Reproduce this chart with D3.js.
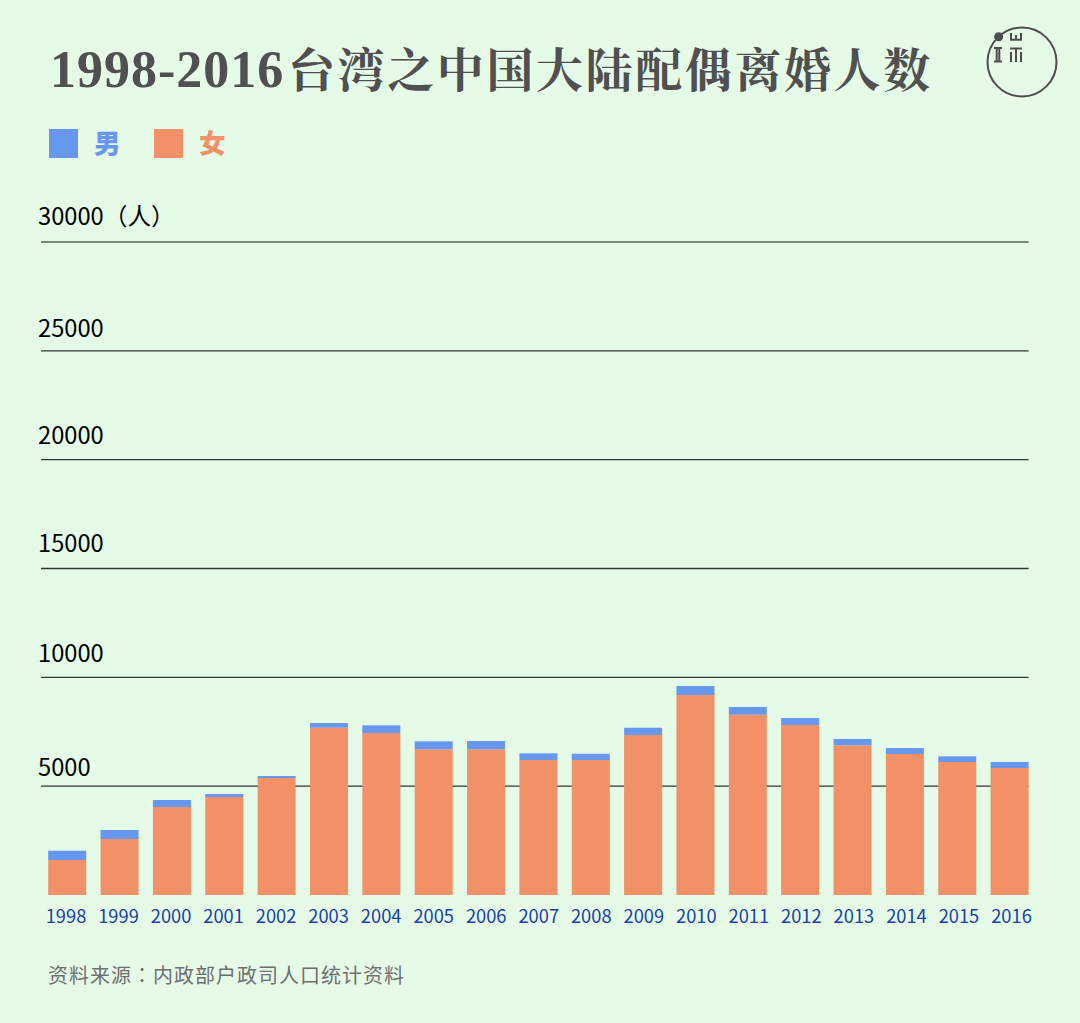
<!DOCTYPE html>
<html lang="zh-CN">
<head>
<meta charset="utf-8">
<script src="https://cdn.jsdelivr.net/npm/d3@7"></script>
<style>
html,body{margin:0;padding:0;background:#e5fbe8;}
svg{display:block;}
text{font-family:"Noto Sans CJK SC","Noto Sans",sans-serif;}
</style>
</head>
<body>
<div id="chart"></div>
<script>
const years = ["1998","1999","2000","2001","2002","2003","2004","2005","2006","2007","2008","2009","2010","2011","2012","2013","2014","2015","2016"];
const female = [1608,2572,4042,4502,5374,7685,7441,6693,6693,6201,6201,7350,9187,8282,7809,6876,6477,6109,5834];
const male   = [ 427, 414, 322, 138,  92, 215, 354, 367, 381, 308, 289, 335, 413, 354, 321, 290, 275, 262, 275];
const yTicks = [5000,10000,15000,20000,25000,30000];
const legendLabels = ["男","女"];
const titleDigits = "1998-2016";
const titleWords = "台湾之中国大陆配偶离婚人数";
const sourceText = "资料来源：内政部户政司人口统计资料";
const yUnit = "（人）";

const W = 1080, H = 1023;
const colors = {bg:"#e5fbe8", male:"#6897f0", female:"#f29068", title:"#505050", axis:"#1a3fa8", source:"#6f6f6f"};

const svg = d3.select("#chart").append("svg").attr("width",W).attr("height",H).attr("viewBox",`0 0 ${W} ${H}`);
svg.append("rect").attr("width",W).attr("height",H).attr("fill",colors.bg);

const x = d3.scaleBand().domain(years).range([48.2,1028.6]).paddingInner(0.274).paddingOuter(0);
const xLabel = d3.scalePoint().domain(years).range([66,1011.5]);
const y = d3.scaleLinear().domain([0,30000]).range([895,242]);

// gridlines
svg.append("g").selectAll("line").data(yTicks).join("line")
  .attr("x1",41).attr("x2",1028.6)
  .attr("y1",d=>y(d)).attr("y2",d=>y(d))
  .attr("stroke",d=>d===30000?"#566357":"#333633")
  .attr("stroke-width",d=>d===30000?1.6:1.3);

// y labels
const yLabelGap = new Map([[5000,10],[10000,15],[15000,17],[20000,16],[25000,14],[30000,17]]);
svg.append("g").selectAll("text").data(yTicks).join("text")
  .attr("x",38).attr("y",d=>y(d)-yLabelGap.get(d))
  .attr("font-size",23.7).attr("fill","#000")
  .text(d=>d===30000?d+yUnit:d);

// stacked bars
const rows = years.map((yr,i)=>({year:yr,female:female[i],male:male[i]}));
const stack = d3.stack().keys(["female","male"])(rows);
svg.append("g").selectAll("g").data(stack).join("g")
  .attr("fill",s=>colors[s.key])
  .selectAll("rect").data(s=>s).join("rect")
  .attr("x",d=>x(d.data.year))
  .attr("width",x.bandwidth())
  .attr("y",d=>y(d[1]))
  .attr("height",d=>y(d[0])-y(d[1]));

// x labels
svg.append("g").selectAll("text").data(years).join("text")
  .attr("x",d=>xLabel(d)).attr("y",922.5)
  .attr("text-anchor","middle").attr("font-size",18.3).attr("fill",colors.axis)
  .text(d=>d);

// title
const title = svg.append("text").attr("y",87).attr("fill",colors.title)
  .style("font-family",'"Liberation Serif","Noto Serif CJK SC","Noto Sans CJK SC",serif');
title.append("tspan").attr("x",50).attr("font-size",52).attr("font-weight",700).attr("letter-spacing",1).text(titleDigits);
title.append("tspan").attr("x",288).attr("font-size",47).attr("font-weight",700).attr("letter-spacing",2.6).text(titleWords);

// legend
const legendKeys = ["male","female"];
const legend = svg.append("g").selectAll("g").data(legendLabels).join("g")
  .attr("transform",(d,i)=>`translate(${49+i*105},129)`);
legend.append("rect").attr("width",29).attr("height",29).attr("fill",(d,i)=>colors[legendKeys[i]]);
legend.append("text").attr("x",45).attr("y",24).attr("font-size",26.5).attr("font-weight",900)
  .attr("fill",(d,i)=>colors[legendKeys[i]]).text(d=>d);

// source
svg.append("text").attr("x",48).attr("y",983).attr("font-size",20).attr("letter-spacing",1)
  .attr("lang","zh-TW")
  .style("font-family",'"Noto Sans CJK TC","Noto Sans CJK SC",sans-serif')
  .attr("fill",colors.source).text(sourceText);

// logo
const logo = svg.append("g").attr("stroke","#4d4d4d").attr("fill","none");
logo.append("circle").attr("cx",1022).attr("cy",62).attr("r",34.5).attr("stroke-width",2);
logo.append("circle").attr("cx",998.7).attr("cy",36.7).attr("r",4.5).attr("fill","#4d4d4d").attr("stroke","none");
logo.append("path").attr("stroke-width",2)
  .attr("d","M994 48H1002M994 61.5H1002M996.7 48V61.5M999.3 48V61.5"
    +"M1011 33V39.8H1021V33M1016 35V39.8"
    +"M1010 48.5H1022M1011 52V62M1016 48.5V62M1021 52V62");
</script>
</body>
</html>
